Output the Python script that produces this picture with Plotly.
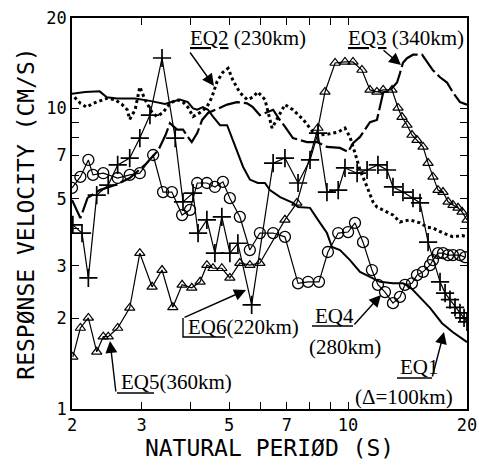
import plotly.graph_objects as go

# ---------------- data (period in s, response velocity in cm/s) ----------------
eq1_T = [2.00, 2.16, 2.35, 2.45, 2.60, 2.89, 3.15, 3.44, 3.75, 3.93, 4.05, 4.15, 4.29, 4.42, 4.55, 4.74,
         4.94, 5.08, 5.23, 5.42, 5.64, 5.91, 6.16, 6.34, 6.73, 7.25, 7.47, 8.01, 8.39, 8.84, 9.10, 9.54,
         10.11, 10.72, 11.36, 12.04, 12.99, 13.77, 14.34, 15.21, 16.12, 17.29, 18.43, 20.0]
eq1_V = [11.2, 11.35, 11.4, 10.9, 10.8, 10.8, 10.6, 10.35, 10.7, 10.5, 10.0, 9.9, 10.1, 9.9, 9.4, 8.8,
         8.8, 8.0, 7.3, 6.4, 5.8, 5.65, 5.65, 5.35, 5.07, 4.85, 4.70, 4.67, 4.26, 3.85, 3.46, 3.38,
         3.13, 2.86, 2.75, 2.65, 2.62, 2.62, 2.55, 2.36, 2.17, 1.93, 1.80, 1.67]

eq2_T = [2.03, 2.10, 2.18, 2.26, 2.45, 2.57, 2.68, 2.76, 2.80, 2.89, 2.97, 3.06, 3.19, 3.28, 3.40, 3.54,
         3.69, 3.82, 3.93, 4.05, 4.22, 4.39, 4.52, 4.66, 4.82, 4.97, 5.11, 5.32, 5.55, 5.74, 5.91, 6.16,
         6.42, 6.66, 6.92, 7.25, 7.69, 8.15, 8.48, 8.84, 9.44, 9.82, 10.11, 10.41, 10.72, 11.17, 11.56,
         11.83, 12.55, 12.99, 13.53, 14.34, 15.21, 15.84, 16.40, 17.39, 18.43, 19.43, 20.0]
eq2_V = [10.9, 10.4, 10.1, 10.4, 10.8, 10.7, 10.3, 9.9, 9.2, 9.9, 11.8, 10.7, 9.7, 9.4, 9.7, 10.4,
         10.7, 10.5, 10.1, 9.4, 9.7, 10.1, 10.9, 12.3, 13.2, 13.6, 12.4, 11.3, 10.7, 10.9, 11.35, 10.7,
         8.6, 9.4, 10.3, 9.9, 9.2, 8.35, 8.16, 8.2, 8.35, 8.6, 8.04, 7.11, 6.24, 5.48, 4.89,
         4.70, 4.53, 4.42, 4.19, 4.26, 4.16, 4.03, 4.00, 3.85, 3.74, 3.78, 3.74]

eq3_T = [2.00, 2.10, 2.19, 2.35, 2.57, 2.80, 3.06, 3.31, 3.45, 3.54, 3.69, 3.82, 3.93, 4.02, 4.15, 4.27,
         4.42, 4.60, 4.74, 4.94, 5.23, 5.55, 5.74, 5.98, 6.46, 6.66, 6.92, 7.25, 7.87, 8.35, 8.84, 9.54,
         10.0, 10.29, 10.72, 11.36, 11.83, 12.04, 12.27, 12.77, 13.30, 13.53, 13.77, 14.10, 14.60, 15.39,
         15.84, 16.40, 17.09, 17.80, 18.43, 19.20, 20.0]
eq3_V = [4.96, 4.32, 5.04, 5.35, 5.56, 5.87, 6.49, 7.28, 8.16, 8.94, 8.5, 8.5, 8.04, 7.73, 8.28, 9.16,
         9.66, 9.88, 10.1, 10.3, 10.5, 10.4, 10.1, 9.5, 9.9, 9.3, 8.7, 7.97, 7.73, 7.73, 7.45, 7.39,
         7.17, 7.67, 8.04, 9.0, 9.16, 10.1, 11.3, 11.5, 12.2, 13.1, 14.2, 14.7, 15.1, 15.1,
         14.3, 13.4, 12.7, 12.2, 11.3, 10.5, 10.3]

eq4_T = [2.00, 2.10, 2.20, 2.26, 2.40, 2.61, 2.80, 2.97, 3.21, 3.40, 3.58, 3.80, 3.98, 4.15, 4.39, 4.60,
         4.82, 5.02, 5.32, 5.64, 5.98, 6.46, 6.92, 7.47, 7.92, 8.44, 8.89, 9.44, 10.0, 10.41, 10.91, 11.49,
         11.90, 12.40, 12.99, 13.53, 13.93, 14.51, 14.94, 15.48, 16.12, 16.40, 16.89, 17.39, 17.91, 18.43,
         19.20, 19.77]
eq4_V = [5.44, 5.92, 6.74, 6.01, 6.09, 5.87, 6.01, 6.09, 7.00, 5.27, 5.27, 4.42, 4.60, 5.65, 5.65, 5.48,
         5.70, 5.03, 4.36, 3.38, 3.85, 3.85, 3.74, 2.62, 2.65, 2.65, 3.33, 3.85, 3.88, 4.16, 3.59, 2.90,
         2.59, 2.45, 2.25, 2.36, 2.59, 2.62, 2.79, 2.86, 3.01, 3.13, 3.30, 3.30, 3.25, 3.25,
         3.25, 3.20]

eq5_T = [2.01, 2.10, 2.20, 2.31, 2.40, 2.47, 2.61, 2.80, 2.97, 3.19, 3.38, 3.60, 3.80, 4.02, 4.22, 4.39,
         4.55, 4.79, 5.02, 5.32, 5.64, 5.98, 6.92, 7.42, 8.39, 8.74, 9.27, 9.82, 10.29, 10.84, 11.36, 11.83,
         12.27, 12.92, 13.38, 13.69, 14.10, 14.51, 14.94, 15.48, 15.94, 16.40, 16.89, 17.39, 17.91, 18.43,
         18.98, 19.43, 20.0]
eq5_V = [1.49, 1.86, 2.01, 1.55, 1.74, 1.74, 1.86, 2.17, 3.30, 2.55, 2.90, 2.18, 2.59, 2.53, 2.65, 3.01,
         2.94, 2.94, 2.73, 3.06, 3.01, 3.06, 4.26, 4.85, 8.61, 11.35, 14.17, 14.28, 14.28, 13.43, 11.53, 11.35,
         11.53, 11.53, 10.04, 9.36, 8.81, 8.16, 7.85, 7.45, 6.58, 5.92, 5.35, 5.27, 4.89, 4.77,
         4.67, 4.53, 4.26]

eq6_T = [2.01, 2.12, 2.20, 2.31, 2.47, 2.61, 2.80, 2.97, 3.15, 3.38, 3.65, 3.82, 4.05, 4.17, 4.39, 4.60,
         4.79, 5.02, 5.26, 5.70, 6.46, 6.92, 7.47, 8.01, 8.39, 8.84, 9.44, 9.82, 10.54, 11.17, 11.90, 12.55,
         12.99, 13.77, 14.60, 15.21, 15.94, 17.09, 17.60, 18.11, 18.65, 19.20, 19.66, 20.0]
eq6_V = [4.10, 3.85, 2.73, 5.15, 5.56, 6.49, 6.84, 7.97, 9.51, 14.72, 7.97, 4.89, 5.23, 3.85, 4.26, 3.30,
         4.36, 3.30, 3.56, 2.22, 6.58, 6.84, 5.65, 6.74, 8.28, 5.27, 5.35, 6.34, 6.09, 6.24, 6.49, 6.24,
         5.48, 5.27, 5.03, 4.85, 3.59, 2.65, 2.43, 2.31, 2.18, 2.09, 2.01, 1.95]

x_tickvals = [2, 3, 4, 5, 6, 7, 8, 9, 10, 20]
x_ticktext = ['2', '3', '', '5', '', '7', '', '', '10', '20']
y_tickvals = [1, 2, 3, 4, 5, 6, 7, 8, 9, 10, 20]
y_ticktext = ['1', '2', '3', '', '5', '', '7', '', '', '10', '20']

# ---------------- figure ----------------
W, H = 479, 470
L, R, T, B = 72, 12, 18, 61
PW, PH = W - L - R, H - T - B

def px(x):
    return (x - L) / PW

def py(y):
    return (H - B - y) / PH

fig = go.Figure()
fig.add_trace(go.Scatter(x=eq1_T, y=eq1_V, mode='lines', line=dict(color='black', width=2)))
fig.add_trace(go.Scatter(x=eq2_T, y=eq2_V, mode='lines', line=dict(color='black', width=3, dash='3px,3px')))
fig.add_trace(go.Scatter(x=eq3_T, y=eq3_V, mode='lines', line=dict(color='black', width=2.2, dash='22px,4px')))
fig.add_trace(go.Scatter(x=eq4_T, y=eq4_V, mode='lines+markers', line=dict(color='black', width=1.2),
                         marker=dict(symbol='circle-open', size=11, color='black', line=dict(width=1.3))))
fig.add_trace(go.Scatter(x=eq5_T, y=eq5_V, mode='lines+markers', line=dict(color='black', width=1.2),
                         marker=dict(symbol='triangle-up-open', size=9, color='black', line=dict(width=1.2))))
fig.add_trace(go.Scatter(x=eq6_T, y=eq6_V, mode='lines+markers', line=dict(color='black', width=1.2),
                         marker=dict(symbol='cross-thin-open', size=13, color='black', line=dict(width=1.7))))

axis_common = dict(type='log', showline=True, linecolor='black', linewidth=1.6, mirror='ticks',
                   ticks='inside', ticklen=7, tickwidth=1.3, tickcolor='black', showgrid=False,
                   zeroline=False, automargin=False,
                   tickfont=dict(family='DejaVu Sans Mono', size=17, color='black'))
fig.update_xaxes(range=[0.30103, 1.30103], tickvals=x_tickvals, ticktext=x_ticktext,
                 title=dict(text='NATURAL PERIØD (S)', font=dict(family='DejaVu Sans Mono', size=23, color='black'),
                            standoff=5), **axis_common)
fig.update_yaxes(range=[0, 1.30103], tickvals=y_tickvals, ticktext=y_ticktext,
                 title=dict(text='RESPØNSE VELOCITY (CM/S)', font=dict(family='DejaVu Sans Mono', size=23, color='black'),
                            standoff=5), **axis_common)

serif = dict(family='Liberation Serif', size=21, color='black')
labels = [
    ('<u>EQ2</u> (230km)', 188, 38),
    ('<u>EQ3</u> (340km)', 346, 38),
    ('EQ6(220km)', 186, 327),
    ('EQ5(360km)', 119, 382),
    ('EQ4', 313, 316),
    ('(280km)', 307, 347),
    ('EQ1', 398, 367),
    ('(Δ=100km)', 353, 397),
]
for txt, x, y in labels:
    fig.add_annotation(text=txt, x=px(x), y=py(y), xref='paper', yref='paper', xanchor='left',
                       yanchor='middle', showarrow=False, font=serif)

# underlines / leader polylines (paper coords)
polys = [
    [(183, 318), (183, 337), (225, 337)],
    [(117, 393), (154, 393)],
    [(312, 326), (353, 326)],
    [(397, 378), (432, 378)],
]
for pts in polys:
    path = 'M ' + ' L '.join(f'{px(a):.5f},{py(b):.5f}' for a, b in pts)
    fig.add_shape(type='path', path=path, xref='paper', yref='paper', line=dict(color='black', width=1.4))

arrows = [  # (tail x, tail y, tip x, tip y) in pixels
    (189, 51, 214, 86),
    (382, 49, 401, 65),
    (183, 318, 246, 290),
    (116, 393, 110, 341),
    (353, 326, 381, 295),
    (432, 378, 444, 332),
]
for x0, y0, x1, y1 in arrows:
    fig.add_annotation(x=px(x1), y=py(y1), xref='paper', yref='paper', text='', showarrow=True,
                       ax=x0 - x1, ay=y0 - y1, axref='pixel', ayref='pixel', arrowhead=2,
                       arrowsize=1.7, arrowwidth=1.4, arrowcolor='black', standoff=0, startstandoff=0)

fig.update_layout(width=W, height=H, margin=dict(l=L, r=R, t=T, b=B, autoexpand=False), showlegend=False,
                  autosize=False, paper_bgcolor='white', plot_bgcolor='white')
fig.write_html('out.html', config={'displayModeBar': False, 'responsive': False},
               default_width='479px', default_height='470px',
               post_script="document.body.style.margin='0px';document.body.style.overflow='hidden';")
